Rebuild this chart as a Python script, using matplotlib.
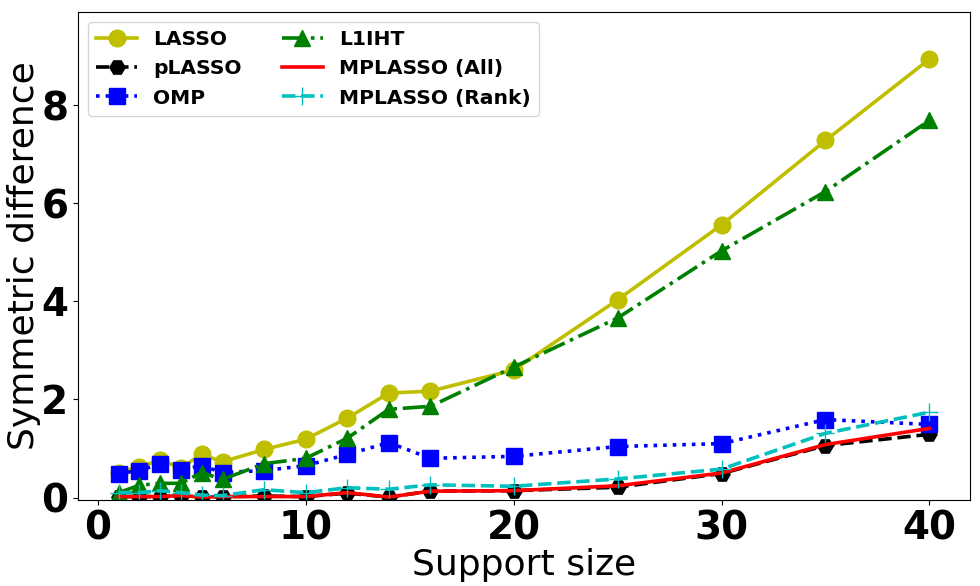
import matplotlib
matplotlib.use('Agg')
import matplotlib.pyplot as plt
from matplotlib.ticker import MultipleLocator

# support sizes
support = [1, 2, 3, 4, 5, 6, 8, 10, 12, 14, 16, 20, 25, 30, 35, 40]

# symmetric difference per method
lasso = [0.51, 0.63, 0.76, 0.61, 0.88, 0.73, 0.98, 1.19, 1.62, 2.13, 2.17, 2.60, 4.03, 5.56, 7.28, 8.94]
plasso = [0.02, 0.02, 0.02, 0.03, 0.01, 0.02, 0.03, 0.02, 0.09, 0.01, 0.13, 0.14, 0.21, 0.49, 1.06, 1.29]
omp = [0.49, 0.55, 0.69, 0.57, 0.65, 0.51, 0.55, 0.65, 0.88, 1.12, 0.80, 0.84, 1.04, 1.10, 1.59, 1.49]
l1iht = [0.10, 0.25, 0.29, 0.29, 0.51, 0.37, 0.69, 0.80, 1.21, 1.80, 1.86, 2.66, 3.66, 5.03, 6.24, 7.69]
mplasso_all = [0.02, 0.02, 0.02, 0.04, 0.01, 0.02, 0.02, 0.02, 0.10, 0.01, 0.13, 0.14, 0.24, 0.50, 1.08, 1.41]
mplasso_rank = [0.10, 0.10, 0.14, 0.10, 0.05, 0.04, 0.16, 0.10, 0.20, 0.17, 0.26, 0.23, 0.38, 0.58, 1.31, 1.74]

fig, ax = plt.subplots(figsize=(9.8, 5.86), dpi=100)
fig.subplots_adjust(left=78/980, right=970/980, top=1-12/586, bottom=1-500/586)

lw = 2.6
ax.plot(support, lasso, 'y-o', linewidth=lw, markersize=12, label='LASSO')
ax.plot(support, plasso, 'k--H', linewidth=lw, markersize=11, label='pLASSO')
ax.plot(support, omp, 'b:s', linewidth=lw, markersize=11.5, label='OMP')
ax.plot(support, l1iht, 'g-.^', linewidth=lw, markersize=12, label='L1IHT')
ax.plot(support, mplasso_all, 'r-', linewidth=lw, label='MPLASSO (All)')
ax.plot(support, mplasso_rank, 'c--+', linewidth=lw, markersize=13, label='MPLASSO (Rank)')

ax.set_ylim(-0.05, 9.9)
ax.xaxis.set_major_locator(MultipleLocator(10))
ax.set_xlabel('Support size', fontsize=26, labelpad=0)
ax.set_ylabel('Symmetric difference', fontsize=26, labelpad=0)
for lab in ax.get_xticklabels() + ax.get_yticklabels():
    lab.set_fontsize(28)
    lab.set_fontweight('bold')

ax.legend(loc='upper left', ncol=2, prop={'weight': 'bold', 'size': 14.6})

plt.savefig('out.png')
